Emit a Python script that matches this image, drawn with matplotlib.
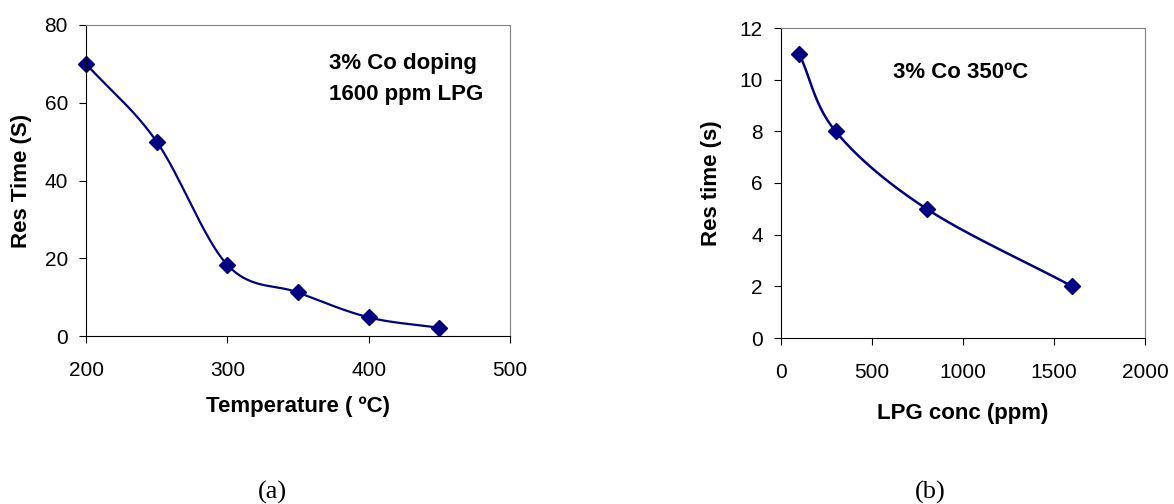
import numpy as np
import matplotlib.pyplot as plt

# panel (a): response time vs temperature
temp_c = [200, 250, 300, 350, 400, 450]
res_time_a = [70, 50, 18.3, 11.2, 4.8, 2.1]

# panel (b): response time vs LPG concentration
lpg_ppm = [100, 300, 800, 1600]
res_time_b = [11, 8, 5, 2]

NAVY = '#000080'
plt.rcParams['font.family'] = ['Liberation Sans', 'DejaVu Sans']


def smooth(xs, ys, n=30):
    # Catmull-Rom style smoothing, like a spreadsheet "smoothed line"
    x = np.asarray(xs, float)
    y = np.asarray(ys, float)
    px = np.concatenate([[2 * x[0] - x[1]], x, [2 * x[-1] - x[-2]]])
    py = np.concatenate([[2 * y[0] - y[1]], y, [2 * y[-1] - y[-2]]])
    outx, outy = [], []
    t = np.linspace(0, 1, n)
    for i in range(1, len(px) - 2):
        for p, out in ((px, outx), (py, outy)):
            p0, p1, p2, p3 = p[i - 1], p[i], p[i + 1], p[i + 2]
            out.extend(0.5 * ((2 * p1) + (-p0 + p2) * t
                              + (2 * p0 - 5 * p1 + 4 * p2 - p3) * t ** 2
                              + (-p0 + 3 * p1 - 3 * p2 + p3) * t ** 3))
    return outx, outy


def style(ax):
    for s in ('top', 'right'):
        ax.spines[s].set_color('#808080')
    for s in ('left', 'bottom'):
        ax.spines[s].set_color('black')
    ax.tick_params(direction='out', length=5, labelsize=15)
    ax.tick_params(axis='x', pad=13)
    ax.tick_params(axis='y', pad=8)
    ax.xaxis.label.set_verticalalignment('center')
    ax.yaxis.label.set_verticalalignment('center')


fig = plt.figure(figsize=(11.74, 5.04), dpi=100)
W, H = 1174, 504
ax1 = fig.add_axes([86 / W, 1 - 336 / H, (510 - 86) / W, (336 - 25) / H])
ax2 = fig.add_axes([781 / W, 1 - 338 / H, (1145 - 781) / W, (338 - 28) / H])

sx, sy = smooth(temp_c, res_time_a)
ax1.plot(sx, sy, color=NAVY, lw=1.6)
ax1.plot(temp_c, res_time_a, 'D', color=NAVY, ms=8.5, ls='none', clip_on=False)
ax1.set_xlim(200, 500)
ax1.set_ylim(0, 80)
ax1.set_xticks([200, 300, 400, 500])
ax1.set_yticks([0, 20, 40, 60, 80])
ax1.set_xlabel('Temperature ( ºC)', fontsize=16, fontweight='bold')
ax1.set_ylabel('Res Time (S)', fontsize=16, fontweight='bold')
ax1.xaxis.set_label_coords(0.5, -0.226)
ax1.yaxis.set_label_coords(-0.153, 0.5)
ax1.text(372, 70.2, '3% Co doping', fontsize=16, fontweight='bold', va='center')
ax1.text(372, 62, '1600 ppm LPG', fontsize=16, fontweight='bold', va='center')
style(ax1)

sx, sy = smooth(lpg_ppm, res_time_b)
ax2.plot(sx, sy, color=NAVY, lw=1.8)
ax2.plot(lpg_ppm, res_time_b, 'D', color=NAVY, ms=8.5, ls='none', clip_on=False)
ax2.set_xlim(0, 2000)
ax2.set_ylim(0, 12)
ax2.set_xticks([0, 500, 1000, 1500, 2000])
ax2.set_yticks([0, 2, 4, 6, 8, 10, 12])
ax2.set_xlabel('LPG conc (ppm)', fontsize=16, fontweight='bold')
ax2.set_ylabel('Res time (s)', fontsize=16, fontweight='bold')
ax2.xaxis.set_label_coords(0.5, -0.244)
ax2.yaxis.set_label_coords(-0.191, 0.5)
ax2.text(615, 10.26, '3% Co 350ºC', fontsize=16, fontweight='bold', va='center')
style(ax2)

fig.text(272 / W, 1 - 492 / H, '(a)', fontsize=19, family='Liberation Serif',
         ha='center', va='center')
fig.text(930 / W, 1 - 492 / H, '(b)', fontsize=19, family='Liberation Serif',
         ha='center', va='center')

fig.savefig('out.png', dpi=100)
